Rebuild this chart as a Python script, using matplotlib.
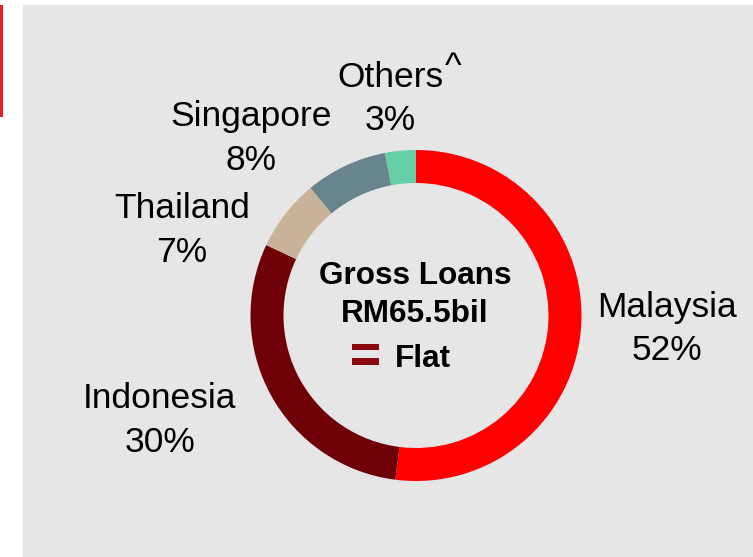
import matplotlib
matplotlib.use("Agg")
import matplotlib.pyplot as plt
from matplotlib.patches import Rectangle

plt.rcParams['font.family'] = ['Liberation Sans', 'DejaVu Sans']

categories = ["Malaysia", "Indonesia", "Thailand", "Singapore", "Others"]
values = [52, 30, 7, 8, 3]
colors = ["#FF0000", "#700008", "#C8B39A", "#67848F", "#66CEA4"]
center_title = ["Gross Loans", "RM65.5bil"]
trend_label = "Flat"

W, H = 753, 557
fig = plt.figure(figsize=(W / 100, H / 100), dpi=100)
fig.patch.set_facecolor("white")

ax = fig.add_axes([0, 0, 1, 1])

def Y(y):
    return H - y

# background panel and left accent line
ax.add_patch(Rectangle((23, 0), 730, H - 5, facecolor="#E6E6E6", edgecolor="none", zorder=0))
ax.add_patch(Rectangle((0, Y(117)), 2.8, 112, facecolor="#ED1C24", edgecolor="none", zorder=0))

cx, cy, R, width = 416, Y(315.5), 165.5, 33
ax.pie(values, colors=colors, startangle=90, counterclock=False,
       center=(cx, cy), radius=R,
       wedgeprops=dict(width=width, linewidth=0, edgecolor="none"),
       frame=True)

ax.set_xlim(0, W)
ax.set_ylim(0, H)
ax.set_aspect("equal")
ax.axis("off")

# label positions (center x, baseline of name line, baseline of pct line) in pixels
label_pos = {
    "Malaysia": (667, 317, 360),
    "Indonesia": (160, 408, 452),
    "Thailand": (182, 218, 262),
    "Singapore": (251, 126, 170),
    "Others": (390, 87, 130),
}
fs = 25.5
for name, val in zip(categories, values):
    x, y1, y2 = label_pos[name]
    ax.text(x, Y(y1), name, ha="center", va="baseline", fontsize=fs, color="black")
    ax.text(x, Y(y2), f"{val}%", ha="center", va="baseline", fontsize=fs, color="black")
ax.text(445, Y(77), "^", ha="left", va="baseline", fontsize=fs, color="black")

# centre text
ax.text(415, Y(284), center_title[0], ha="center", va="baseline", fontsize=22.7,
        fontweight="bold", color="black")
ax.text(415, Y(322), center_title[1], ha="center", va="baseline", fontsize=22.7,
        fontweight="bold", color="black")
ax.text(395, Y(367), trend_label, ha="left", va="baseline", fontsize=22.7,
        fontweight="bold", color="black")
# "=" (flat) indicator
ax.add_patch(Rectangle((352, Y(350)), 27, 6.5, facecolor="#8A0A10", edgecolor="none"))
ax.add_patch(Rectangle((352, Y(364.5)), 27, 6.5, facecolor="#8A0A10", edgecolor="none"))

fig.savefig("out.png", dpi=100, facecolor=fig.get_facecolor())
